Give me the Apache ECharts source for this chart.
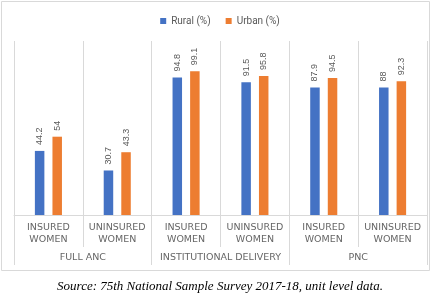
<!DOCTYPE html>
<html><head><meta charset="utf-8">
<script src="https://cdn.jsdelivr.net/npm/echarts@6/dist/echarts.min.js"></script>
<style>html,body{margin:0;padding:0;background:#fff}#c{width:440px;height:296px}</style>
</head><body><div id="c"></div>
<script>
const categories = ['INSURED\nWOMEN','UNINSURED\nWOMEN','INSURED\nWOMEN','UNINSURED\nWOMEN','INSURED\nWOMEN','UNINSURED\nWOMEN'];
const groups = ['FULL ANC','INSTITUTIONAL DELIVERY','PNC'];
const rural = [44.2, 30.7, 94.8, 91.5, 87.9, 88];
const urban = [54, 43.3, 99.1, 95.8, 94.5, 92.3];
const seriesNames = ['Rural (%)','Urban (%)'];
const sourceText = 'Source: 75th National Sample Survey 2017-18, unit level data.';

const gray = '#d9d9d9';
const labelCfg = {show:true, position:'top', rotate:90, align:'left', verticalAlign:'middle', distance:6, fontSize:9, color:'#595959', fontFamily:'Liberation Sans'};
const chart = echarts.init(document.getElementById('c'));
chart.setOption({
  animation:false,
  graphic:[{type:'rect', shape:{x:1.5,y:1.5,width:428,height:269}, style:{fill:'none', stroke:gray, lineWidth:1}, silent:true}],
  title:{text:sourceText, left:'center', top:275, textStyle:{fontFamily:'Liberation Serif', fontStyle:'italic', fontWeight:'normal', fontSize:13, color:'#000'}},
  legend:{top:11, left:'center', itemWidth:6, itemHeight:6, itemGap:15, icon:'rect', textStyle:{fontFamily:'Roboto', fontSize:10, color:'#595959'}, data:seriesNames},
  grid:{left:14, right:13, top:41, bottom:81},
  xAxis:[
    {type:'category', data:categories, position:'bottom',
     axisLine:{show:true, lineStyle:{color:gray}},
     axisTick:{show:true, length:32, lineStyle:{color:gray}},
     splitLine:{show:true, lineStyle:{color:gray}},
     axisLabel:{margin:7, fontFamily:'DejaVu Sans', fontSize:9.5, lineHeight:12, color:'#666666', interval:0}},
    {type:'category', data:groups, position:'bottom',
     axisLine:{show:false},
     axisTick:{show:true, length:50, lineStyle:{color:gray}},
     axisLabel:{margin:38, fontFamily:'DejaVu Sans', fontSize:9.5, color:'#666666', interval:0}}
  ],
  yAxis:{type:'value', min:0, max:120, show:false, splitLine:{show:false}},
  series:[
    {name:seriesNames[0], type:'bar', data:rural, barWidth:9.5, barGap:'85%', itemStyle:{color:'#4472C4'}, label:labelCfg},
    {name:seriesNames[1], type:'bar', data:urban, barWidth:9.5, barGap:'85%', itemStyle:{color:'#ED7D31'}, label:labelCfg}
  ]
});
</script></body></html>
